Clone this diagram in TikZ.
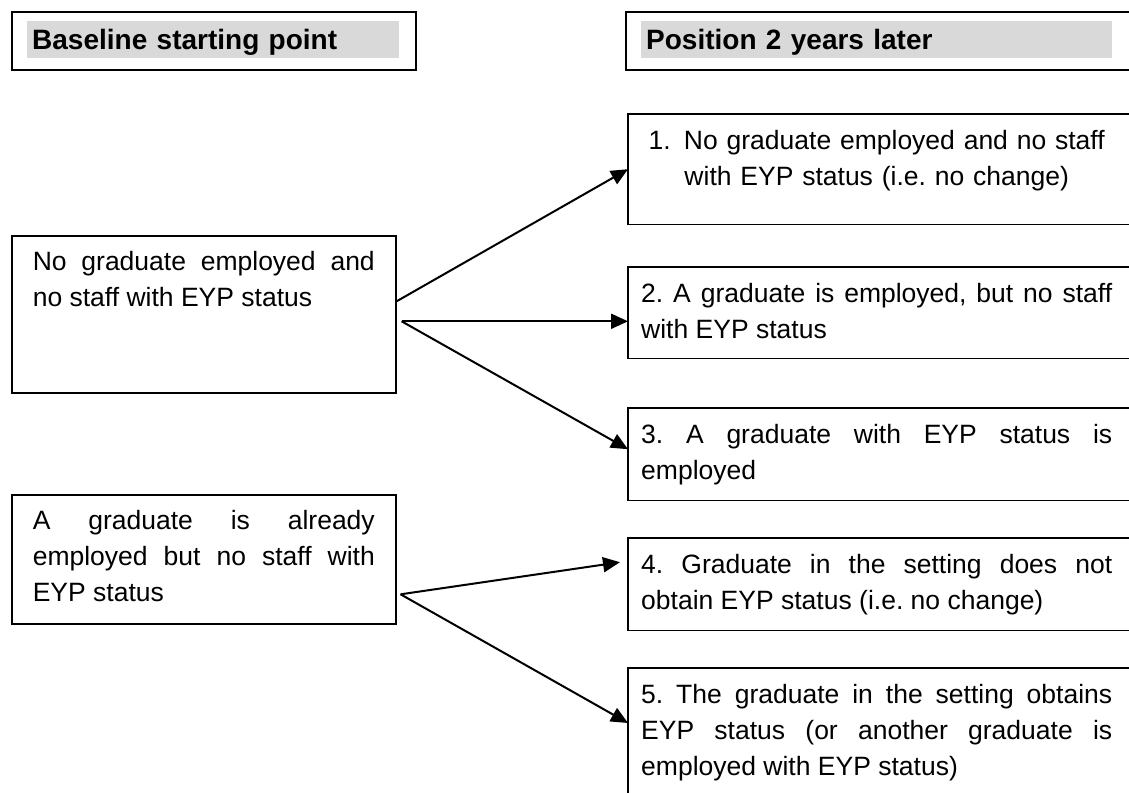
\documentclass[tikz,border=0pt]{standalone}
\usepackage{fontspec}
\setmainfont{Liberation Sans}
\usetikzlibrary{arrows.meta}
\definecolor{headgray}{HTML}{D9D9D9}
\frenchspacing

\begin{document}
\begin{tikzpicture}[
    x=1pt, y=-1pt,
    frame/.style={draw=black, line width=1.6pt},
    headframe/.style={frame, anchor=north west, minimum height=58pt, inner sep=0pt},
    headbar/.style={fill=headgray, anchor=north west, inner xsep=5pt, inner ysep=0pt,
        text height=28pt, text depth=9pt, font=\fontsize{28}{36}\selectfont\bfseries},
    startbox/.style={frame, anchor=north west, inner xsep=21pt, inner ysep=0pt,
        text width=342pt, align=justify, text height=35pt,
        font=\fontsize{26.5}{36}\selectfont},
    outbox/.style={anchor=north west, inner xsep=13pt, inner ysep=0pt,
        text width=471pt, align=justify, text height=35pt,
        font=\fontsize{26.5}{36}\selectfont},
    flow/.style={line width=2pt, -{Triangle[length=17pt, width=15pt]}}
]
    \useasboundingbox (0,0) rectangle (1129,792);
    \clip (0,0) rectangle (1129,792);

    % headings
    \node[headframe, minimum width=404pt] (basehead) at (11,11) {};
    \node[headframe, minimum width=540pt] (posthead) at (625,11) {};
    \node[headbar, text width=362pt] (basebar) at (27,21) {Baseline starting point};
    \node[headbar, text width=461pt] (postbar) at (641,21) {Position 2 years later};

    % starting points
    \node[startbox, text depth=122pt] (noneA) at (11,235)
        {No graduate employed and\linebreak no staff with EYP status};
    \node[startbox, text depth=94pt] (gradB) at (11,494)
        {A graduate is already\linebreak employed but no staff with\linebreak EYP status};

    % outcomes
    \node[outbox, align=center, text depth=75pt] (out1) at (628,114)
        {1.\enspace No graduate employed and no staff\\ with EYP status (i.e. no change)};
    \node[outbox, text depth=56pt] (out2) at (628,267)
        {2. A graduate is employed, but no staff\linebreak with EYP status};
    \node[outbox, text depth=57pt] (out3) at (628,408)
        {3. A graduate with EYP status is\linebreak employed};
    \node[outbox, text depth=57pt] (out4) at (628,538)
        {4. Graduate in the setting does not\linebreak obtain EYP status (i.e. no change)};
    \node[outbox, text depth=107pt] (out5) at (628,668)
        {5. The graduate in the setting obtains\linebreak EYP status (or another graduate is\linebreak employed with EYP status)};
    \foreach \n in {out1,out2,out3,out4,out5}
        \draw[frame] (\n.north west) rectangle ([xshift=40pt]\n.south east);

    \coordinate (splitA) at ([xshift=5pt,yshift=-7pt]noneA.east);
    \coordinate (splitB) at ([xshift=4pt,yshift=-35pt]gradB.east);

    \draw[flow] ([yshift=13pt]noneA.east) -- (out1.west);
    \draw[flow] (splitA) -- (splitA -| out2.west);
    \draw[flow] (splitA) -- ([yshift=5pt]out3.west);
    \draw[flow] (splitB) -- ([xshift=-8pt,yshift=22pt]out4.west);
    \draw[flow] (splitB) -- ([yshift=-55pt]out5.north west);
\end{tikzpicture}
\end{document}
